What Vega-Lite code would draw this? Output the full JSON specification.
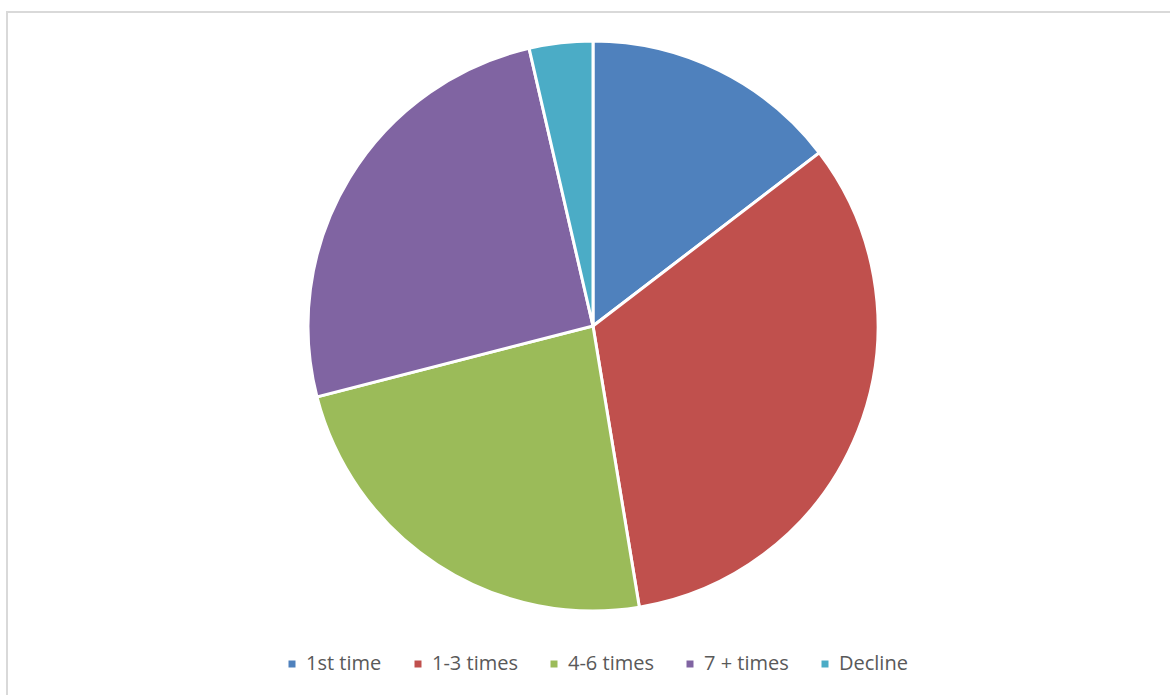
{
  "$schema": "https://vega.github.io/schema/vega-lite/v6.json",
  "width": 1168,
  "height": 690,
  "padding": {"left": 7, "top": 12, "right": 0, "bottom": 0},
  "background": "white",
  "view": {"stroke": "#D9D9D9", "strokeWidth": 2, "strokeDash": [1858, 1168, 700]},
  "data": {
    "values": [
      {"category": "1st time", "value": 14.6, "order": 1},
      {"category": "1-3 times", "value": 32.8, "order": 2},
      {"category": "4-6 times", "value": 23.6, "order": 3},
      {"category": "7 + times", "value": 25.4, "order": 4},
      {"category": "Decline", "value": 3.6, "order": 5}
    ]
  },
  "mark": {"type": "arc", "outerRadius": 285, "stroke": "white", "strokeWidth": 3, "yOffset": -31, "xOffset": 2},
  "encoding": {
    "theta": {"field": "value", "type": "quantitative", "stack": true},
    "order": {"field": "order", "type": "quantitative"},
    "color": {
      "field": "category",
      "type": "nominal",
      "sort": ["1st time", "1-3 times", "4-6 times", "7 + times", "Decline"],
      "scale": {
        "domain": ["1st time", "1-3 times", "4-6 times", "7 + times", "Decline"],
        "range": ["#4F81BD", "#C0504D", "#9BBB59", "#8064A2", "#4BACC6"]
      },
      "legend": {
        "orient": "none",
        "legendX": 275,
        "legendY": 642,
        "direction": "horizontal",
        "title": null,
        "symbolType": "square",
        "symbolSize": 49,
        "symbolStrokeWidth": 0,
        "labelFont": "Open Sans",
        "labelFontSize": 20,
        "labelColor": "#595959",
        "columnPadding": 26,
        "labelOffset": 4
      }
    }
  }
}
